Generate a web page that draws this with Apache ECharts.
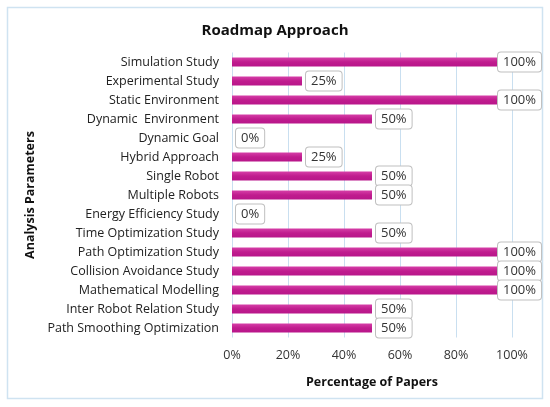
<!DOCTYPE html>
<html><head><meta charset="utf-8">
<script src="https://cdn.jsdelivr.net/npm/echarts@6/dist/echarts.min.js"></script>
<style>html,body{margin:0;padding:0;background:#fff}#c{width:550px;height:407px}</style>
</head><body><div id="c"></div>
<script>
const titleText = 'Roadmap Approach';
const categories = ['Simulation Study','Experimental Study','Static Environment','Dynamic  Environment','Dynamic Goal','Hybrid Approach','Single Robot','Multiple Robots','Energy Efficiency Study','Time Optimization Study','Path Optimization Study','Collision Avoidance Study','Mathematical Modelling','Inter Robot Relation Study','Path Smoothing Optimization'];
const percentValues = [100,25,100,50,0,25,50,50,0,50,100,100,100,50,50];
const xTicks = [0,20,40,60,80,100];
const xName = 'Percentage of Papers';
const yName = 'Analysis Parameters';

const font = '"Open Sans", "Noto Sans", sans-serif';
const chart = echarts.init(document.getElementById('c'), null, {renderer:'canvas'});
const labelBox = {
  show:true, position:'right', distance:4,
  formatter: p => p.value + '%',
  color:'#333', fontFamily:font, fontSize:13,
  backgroundColor:'#fff', borderColor:'#BFBFBF', borderWidth:1, borderRadius:3,
  padding:[3,5,3,5]
};
const seriesData = percentValues.map(v => v >= xTicks[xTicks.length-1]
  ? {value:v, label:{offset:[-18,0]}}
  : {value:v});
chart.setOption({
  animation:false,
  title:{text:titleText, left:'center', top:18, textStyle:{fontFamily:font, fontSize:15, fontWeight:'bold', color:'#111'}},
  graphic:[{type:'rect', shape:{x:7.5,y:7.5,width:535,height:391}, style:{fill:'none', stroke:'#CFE3F1', lineWidth:1.5}, silent:true}],
  grid:{left:232, right:38, top:52.5, bottom:69.5, containLabel:false},
  xAxis:{type:'value', min:0, max:100, interval:20,
    axisLabel:{formatter:'{value}%', color:'#333', fontFamily:font, fontSize:12.5, margin:11},
    axisLine:{show:false}, axisTick:{show:false},
    splitLine:{show:true, lineStyle:{color:'#C9DFF0', width:1}},
    name:xName, nameLocation:'middle', nameGap:38,
    nameTextStyle:{fontFamily:font, fontSize:12.5, fontWeight:'bold', color:'#111'}},
  yAxis:{type:'category', data:categories, inverse:true,
    axisLabel:{color:'#222', fontFamily:font, fontSize:12.5, margin:13},
    axisLine:{show:false}, axisTick:{show:false},
    name:yName, nameLocation:'middle', nameGap:190, nameRotate:90,
    nameTextStyle:{fontFamily:font, fontSize:12.5, fontWeight:'bold', color:'#111'}},
  series:[{type:'bar', data:seriesData, barWidth:9,
    itemStyle:{color:new echarts.graphic.LinearGradient(0,0,0,1,[
      {offset:0,color:'#D63FA8'},{offset:0.5,color:'#C01C8E'},{offset:1,color:'#B8168A'}])},
    label:labelBox}]
});
</script></body></html>
